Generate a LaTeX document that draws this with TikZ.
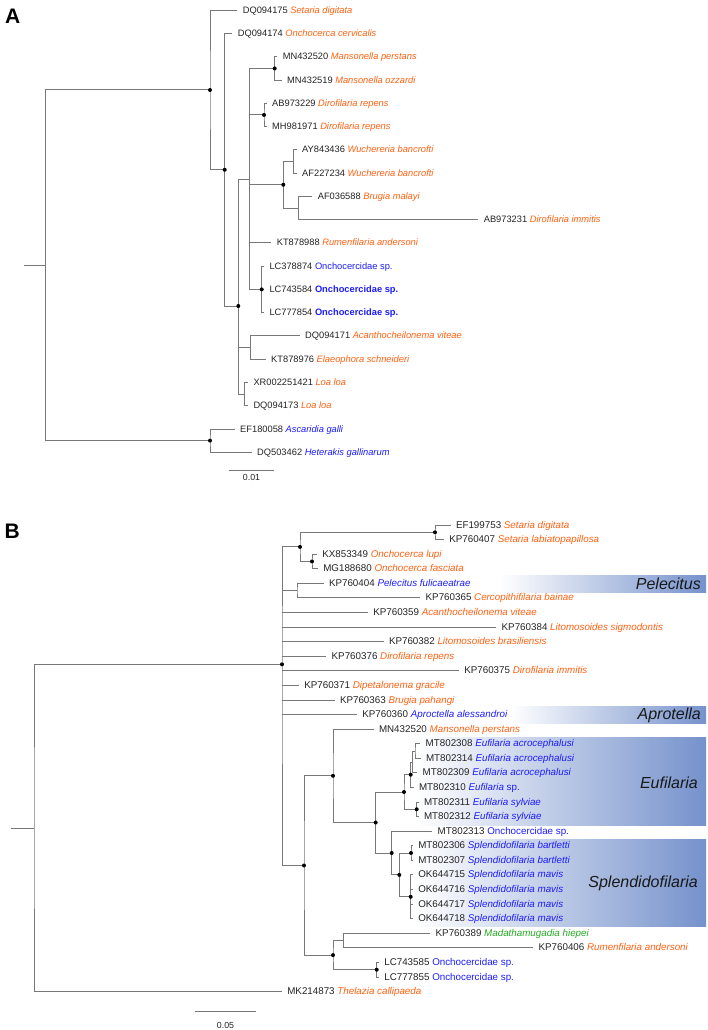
\documentclass[tikz,border=0pt]{standalone}
\usepackage{fontspec}
\setmainfont{Liberation Sans}
\usepackage{tikz}
\definecolor{orsp}{RGB}{255,96,16}
\definecolor{blsp}{RGB}{28,28,250}
\definecolor{grsp}{RGB}{34,170,34}
\definecolor{acctxt}{RGB}{35,35,35}
\definecolor{brgray}{RGB}{120,120,120}
\definecolor{boxblue}{RGB}{118,146,204}
\newcommand{\ors}[1]{{\color{orsp}\itshape #1}}
\newcommand{\bls}[1]{{\color{blsp}\itshape #1}}
\newcommand{\blr}[1]{{\color{blsp}#1}}
\newcommand{\grs}[1]{{\color{grsp}\itshape #1}}

\begin{document}
\begin{tikzpicture}[x=1pt,y=-1pt,
    br/.style={draw=brgray,line width=1pt},
    leafA/.style={anchor=west,inner sep=0pt,outer xsep=5.5pt,text height=7.5pt,text depth=1.5pt,
      font=\fontsize{9.3}{11}\selectfont,text=acctxt},
    leafB/.style={leafA,font=\fontsize{9.8}{11}\selectfont},
    dot/.style={fill=black},
    clade/.style={anchor=east,inner sep=0pt,font=\fontsize{16}{18}\selectfont\itshape,text=black!90},
    panel/.style={anchor=base west,inner sep=0pt,font=\fontsize{21}{21}\selectfont\bfseries},
    bar/.style={inner sep=0pt,font=\fontsize{8.8}{10}\selectfont,text=acctxt}]
  \useasboundingbox (0,0) rectangle (707,1030);

  \node[panel] (pA) at (5,24) {A};
  \node[panel] (pB) at (4.5,538.3) {B};

  \coordinate (aStub) at (24.3,265.3);
  \coordinate (aRoot) at (45.7,265.3);
  \coordinate (aTop) at (210,90);
  \coordinate (aN1) at (224.7,169.8);
  \coordinate (aN2) at (238.3,306);
  \coordinate (aN3) at (249.3,179);
  \coordinate (aMan) at (274.7,68.45);
  \coordinate (aDir) at (264,114.95);
  \coordinate (aWB) at (283.3,184.75);
  \coordinate (aWuc) at (293.3,161.5);
  \coordinate (aBru) at (298.3,208);
  \coordinate (aOnc) at (261.7,289.4);
  \coordinate (aAca) at (250.7,347.55);
  \coordinate (aLoa) at (244.3,394.1);
  \coordinate (aOut) at (210,440.6);

  \node[leafA] (a00) at (237.3,10.3) {DQ094175 \ors{Setaria digitata}};
  \node[leafA] (a01) at (232.3,33.6) {DQ094174 \ors{Onchocerca cervicalis}};
  \node[leafA] (a02) at (277.3,56.8) {MN432520 \ors{Mansonella perstans}};
  \node[leafA] (a03) at (281.7,80.1) {MN432519 \ors{Mansonella ozzardi}};
  \node[leafA] (a04) at (266.7,103.3) {AB973229 \ors{Dirofilaria repens}};
  \node[leafA] (a05) at (266.7,126.6) {MH981971 \ors{Dirofilaria repens}};
  \node[leafA] (a06) at (296.7,149.9) {AY843436 \ors{Wuchereria bancrofti}};
  \node[leafA] (a07) at (296.7,173.1) {AF227234 \ors{Wuchereria bancrofti}};
  \node[leafA] (a08) at (312.3,196.4) {AF036588 \ors{Brugia malayi}};
  \node[leafA] (a09) at (478.3,219.6) {AB973231 \ors{Dirofilaria immitis}};
  \node[leafA] (a10) at (271.3,242.9) {KT878988 \ors{Rumenfilaria andersoni}};
  \node[leafA] (a11) at (264,266.2) {LC378874 \blr{Onchocercidae sp.}};
  \node[leafA] (a12) at (264,289.4) {LC743584 \blr{\bfseries Onchocercidae sp.}};
  \node[leafA] (a13) at (264,312.7) {LC777854 \blr{\bfseries Onchocercidae sp.}};
  \node[leafA] (a14) at (299.7,335.9) {DQ094171 \ors{Acanthocheilonema viteae}};
  \node[leafA] (a15) at (265.7,359.2) {KT878976 \ors{Elaeophora schneideri}};
  \node[leafA] (a16) at (248,382.5) {XR002251421 \ors{Loa loa}};
  \node[leafA] (a17) at (248,405.7) {DQ094173 \ors{Loa loa}};
  \node[leafA] (a18) at (234.7,429) {EF180058 \bls{Ascaridia galli}};
  \node[leafA] (a19) at (251.7,452.2) {DQ503462 \bls{Heterakis gallinarum}};

  \draw[br] (aStub) -- (aRoot);
  \draw[br] (aTop) -| (aRoot) |- (aOut);
  \draw[br] (a00) -| (aTop) |- (aN1);
  \draw[br] (a01) -| (aN1) |- (aN2);
  \draw[br] (aN3) -| (aN2) |- (aLoa);
  \draw[br] (aN2 |- aAca) -- (aAca);
  \draw[br] (aMan) -| (aN3) |- (aOnc);
  \foreach \c in {aDir,aWB,a10} \draw[br] (aN3 |- \c) -- (\c);
  \draw[br] (a02) -| (aMan) |- (a03);
  \draw[br] (a04) -| (aDir) |- (a05);
  \draw[br] (aWuc) -| (aWB) |- (aBru);
  \draw[br] (a06) -| (aWuc) |- (a07);
  \draw[br] (a08) -| (aBru) |- (a09);
  \draw[br] (a11) -| (aOnc) |- (a13);
  \draw[br] (aOnc) -- (a12);
  \draw[br] (a14) -| (aAca) |- (a15);
  \draw[br] (a16) -| (aLoa) |- (a17);
  \draw[br] (a18) -| (aOut) |- (a19);
  \foreach \n in {aTop,aN1,aN2,aMan,aDir,aWB,aOnc,aOut} \fill[dot] (\n) circle (2pt);

  \coordinate (sA1) at (228.7,470);
  \coordinate (sA2) at (274.3,470);
  \draw[br] (sA1) -- (sA2);
  \node[bar] (sAl) at (251.5,477.5) {0.01};

  \shade[left color=white,right color=boxblue] (500,575) rectangle (706,592);
  \shade[left color=white,right color=boxblue] (510,706.5) rectangle (706,723.5);
  \shade[left color=white,right color=boxblue] (415,737) rectangle (706,825);
  \shade[left color=white,right color=boxblue] (415,839.5) rectangle (706,926.5);
  \node[clade] (cPel) at (701,584) {Pelecitus};
  \node[clade] (cApr) at (701,715) {Aprotella};
  \node[clade] (cEuf) at (698,782.7) {Eufilaria};
  \node[clade] (cSpl) at (698,883.3) {Splendidofilaria};

  \coordinate (bStub) at (11,828);
  \coordinate (bRoot) at (34,828);
  \coordinate (bP) at (282,664.3);
  \coordinate (bSO) at (300,546.9);
  \coordinate (bSet) at (435,532.3);
  \coordinate (bOnc) at (312,561.45);
  \coordinate (bPel) at (297,590.6);
  \coordinate (bQ) at (304,865.5);
  \coordinate (bQ1) at (333,775.8);
  \coordinate (bE) at (375.7,822.5);
  \coordinate (bEu) at (404,792);
  \coordinate (bI3) at (410.7,774.7);
  \coordinate (bI2) at (412.7,762);
  \coordinate (bI1) at (415,751);
  \coordinate (bSyl) at (416.7,809.3);
  \coordinate (bSp) at (391.7,853);
  \coordinate (bSp2) at (399.3,874.9);
  \coordinate (bBar) at (411,853);
  \coordinate (bMav) at (410.7,896.8);
  \coordinate (bL) at (333,955.1);
  \coordinate (bMad) at (343.3,940.5);
  \coordinate (bLC) at (376.7,969.7);

  \node[leafB] (b00) at (450.5,525.0) {EF199753 \ors{Setaria digitata}};
  \node[leafB] (b01) at (443.8,539.6) {KP760407 \ors{Setaria labiatopapillosa}};
  \node[leafB] (b02) at (316.8,554.2) {KX853349 \ors{Onchocerca lupi}};
  \node[leafB] (b03) at (317.8,568.7) {MG188680 \ors{Onchocerca fasciata}};
  \node[leafB] (b04) at (323.5,583.3) {KP760404 \bls{Pelecitus fulicaeatrae}};
  \node[leafB] (b05) at (420.2,597.9) {KP760365 \ors{Cercopithifilaria bainae}};
  \node[leafB] (b06) at (367.8,612.5) {KP760359 \ors{Acanthocheilonema viteae}};
  \node[leafB] (b07) at (496.2,627.1) {KP760384 \ors{Litomosoides sigmodontis}};
  \node[leafB] (b08) at (383.5,641.6) {KP760382 \ors{Litomosoides brasiliensis}};
  \node[leafB] (b09) at (326.2,656.2) {KP760376 \ors{Dirofilaria repens}};
  \node[leafB] (b10) at (458.8,670.8) {KP760375 \ors{Dirofilaria immitis}};
  \node[leafB] (b11) at (298.8,685.4) {KP760371 \ors{Dipetalonema gracile}};
  \node[leafB] (b12) at (334.5,700.0) {KP760363 \ors{Brugia pahangi}};
  \node[leafB] (b13) at (356.8,714.5) {KP760360 \bls{Aproctella alessandroi}};
  \node[leafB] (b14) at (373.5,729.1) {MN432520 \ors{Mansonella perstans}};
  \node[leafB] (b15) at (420.2,743.7) {MT802308 \bls{Eufilaria acrocephalusi}};
  \node[leafB] (b16) at (420.5,758.3) {MT802314 \bls{Eufilaria acrocephalusi}};
  \node[leafB] (b17) at (417.2,772.9) {MT802309 \bls{Eufilaria acrocephalusi}};
  \node[leafB] (b18) at (413.5,787.4) {MT802310 \bls{Eufilaria} \blr{sp.}};
  \node[leafB] (b19) at (418.5,802.0) {MT802311 \bls{Eufilaria sylviae}};
  \node[leafB] (b20) at (418.5,816.6) {MT802312 \bls{Eufilaria sylviae}};
  \node[leafB] (b21) at (432.2,831.2) {MT802313 \blr{Onchocercidae sp.}};
  \node[leafB] (b22) at (412.8,845.8) {MT802306 \bls{Splendidofilaria bartletti}};
  \node[leafB] (b23) at (412.8,860.3) {MT802307 \bls{Splendidofilaria bartletti}};
  \node[leafB] (b24) at (412.8,874.9) {OK644715 \bls{Splendidofilaria mavis}};
  \node[leafB] (b25) at (412.8,889.5) {OK644716 \bls{Splendidofilaria mavis}};
  \node[leafB] (b26) at (412.8,904.1) {OK644717 \bls{Splendidofilaria mavis}};
  \node[leafB] (b27) at (412.8,918.7) {OK644718 \bls{Splendidofilaria mavis}};
  \node[leafB] (b28) at (430.2,933.2) {KP760389 \grs{Madathamugadia hiepei}};
  \node[leafB] (b29) at (533.1,947.8) {KP760406 \ors{Rumenfilaria andersoni}};
  \node[leafB] (b30) at (378.8,962.4) {LC743585 \blr{Onchocercidae sp.}};
  \node[leafB] (b31) at (378.8,977.0) {LC777855 \blr{Onchocercidae sp.}};
  \node[leafB] (b32) at (281.8,991.6) {MK214873 \ors{Thelazia callipaeda}};

  \draw[br] (bStub) -- (bRoot);
  \draw[br] (bP) -| (bRoot) |- (b32);
  \draw[br] (bSO) -| (bP) |- (bQ);
  \foreach \c in {bPel,b06,b07,b08,b09,b10,b11,b12,b13} \draw[br] (bP |- \c) -- (\c);
  \draw[br] (bSet) -| (bSO) |- (bOnc);
  \draw[br] (b00) -| (bSet) |- (b01);
  \draw[br] (b02) -| (bOnc) |- (b03);
  \draw[br] (b04) -| (bPel) |- (b05);
  \draw[br] (bQ1) -| (bQ) |- (bL);
  \draw[br] (b14) -| (bQ1) |- (bE);
  \draw[br] (bEu) -| (bE) |- (bSp);
  \draw[br] (bI3) -| (bEu) |- (bSyl);
  \draw[br] (bI2) -| (bI3) |- (b18);
  \draw[br] (bI1) -| (bI2) |- (b17);
  \draw[br] (b15) -| (bI1) |- (b16);
  \draw[br] (b19) -| (bSyl) |- (b20);
  \draw[br] (b21) -| (bSp) |- (bSp2);
  \draw[br] (bBar) -| (bSp2) |- (bMav);
  \draw[br] (b22) -| (bBar) |- (b23);
  \draw[br] (b24) -| (bMav) |- (b27);
  \foreach \c in {b25,b26} \draw[br] (bMav |- \c) -- (\c);
  \draw[br] (bMad) -| (bL) |- (bLC);
  \draw[br] (b28) -| (bMad) |- (b29);
  \draw[br] (b30) -| (bLC) |- (b31);
  \foreach \n in {bP,bSO,bSet,bOnc,bQ,bQ1,bE,bEu,bI3,bSyl,bSp,bSp2,bBar,bMav,bL,bLC}
    \fill[dot] (\n) circle (2pt);

  \coordinate (sB1) at (195,1011.7);
  \coordinate (sB2) at (256,1011.7);
  \draw[br] (sB1) -- (sB2);
  \node[bar] (sBl) at (225.5,1025) {0.05};
\end{tikzpicture}
\end{document}
